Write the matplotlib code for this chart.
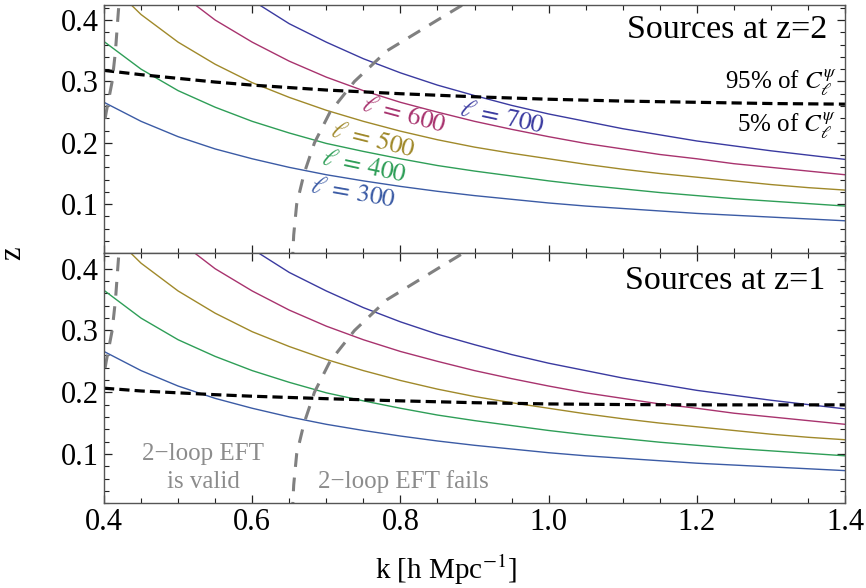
import matplotlib
matplotlib.use("Agg")
import matplotlib.pyplot as plt
import numpy as np

plt.rcParams["font.family"] = ["Liberation Serif", "DejaVu Serif"]
plt.rcParams["mathtext.fontset"] = "stix"

# k grid [h/Mpc]
k = [0.40, 0.45, 0.50, 0.55, 0.60, 0.65, 0.70, 0.75, 0.80, 0.85, 0.90,
     0.95, 1.00, 1.05, 1.10, 1.15, 1.20, 1.25, 1.30, 1.35, 1.40]

# z(k) for fixed multipole
z_l300 = [0.266, 0.235, 0.210, 0.190, 0.174, 0.160, 0.148, 0.138, 0.129, 0.121, 0.114,
          0.108, 0.102, 0.097, 0.093, 0.089, 0.085, 0.082, 0.079, 0.076, 0.073]
z_l400 = [0.365, 0.320, 0.285, 0.258, 0.235, 0.216, 0.199, 0.186, 0.174, 0.163, 0.154,
          0.146, 0.138, 0.131, 0.125, 0.119, 0.114, 0.109, 0.105, 0.101, 0.097]
z_l500 = [0.468, 0.409, 0.364, 0.328, 0.298, 0.274, 0.253, 0.235, 0.219, 0.205, 0.193,
          0.183, 0.174, 0.165, 0.157, 0.150, 0.144, 0.138, 0.132, 0.127, 0.123]
z_l600 = [np.nan, np.nan, 0.446, 0.400, 0.364, 0.333, 0.307, 0.285, 0.266, 0.250, 0.235,
          0.222, 0.210, 0.199, 0.190, 0.181, 0.174, 0.166, 0.160, 0.154, 0.148]
z_l700 = [np.nan, np.nan, np.nan, np.nan, 0.432, 0.394, 0.364, 0.337, 0.314, 0.294, 0.277,
          0.261, 0.247, 0.235, 0.223, 0.213, 0.203, 0.195, 0.187, 0.180, 0.173]

ells = [300, 400, 500, 600, 700]
curves = [z_l300, z_l400, z_l500, z_l600, z_l700]
colors = ["#3b5ba5", "#2e9e57", "#a0892a", "#a8336e", "#3a3aa0"]

# 95%/5% split of C_l^psi
k_split = [0.40, 0.45, 0.50, 0.55, 0.60, 0.70, 0.80, 0.90, 1.00, 1.10, 1.20, 1.30, 1.40]
z_split_2 = [0.318, 0.311, 0.305, 0.299, 0.294, 0.286, 0.280, 0.275, 0.271, 0.268, 0.266, 0.264, 0.263]
z_split_1 = [0.2065, 0.202, 0.199, 0.196, 0.1935, 0.1895, 0.186, 0.183, 0.181, 0.180, 0.1795, 0.1795, 0.1795]

# 2-loop EFT validity boundaries
z_eft = [0.00, 0.05, 0.10, 0.15, 0.20, 0.25, 0.30, 0.35, 0.40, 0.44]
k_eft_fail = [0.654, 0.656, 0.660, 0.670, 0.684, 0.705, 0.738, 0.782, 0.850, 0.905]
z_eft_low = [0.20, 0.25, 0.30, 0.35, 0.40, 0.44]
k_eft_low = [0.396, 0.403, 0.411, 0.4155, 0.4185, 0.421]

fig = plt.figure(figsize=(8.66, 5.88), dpi=100)
left, width = 0.1201, 0.8557
ax_top = fig.add_axes([left, 0.5692, width, 0.4228])
ax_bot = fig.add_axes([left, 0.1440, width, 0.4252])

for ax, z_split in [(ax_top, z_split_2), (ax_bot, z_split_1)]:
    for zc, c in zip(curves, colors):
        ax.plot(k, zc, color=c, lw=1.0)
    ax.plot(k_split, z_split, color="black", lw=2.3, dashes=(3.2, 1.6))
    ax.plot(k_eft_fail, z_eft, color="#808080", lw=2.2, dashes=(4.5, 3.5))
    ax.plot(k_eft_low, z_eft_low, color="#808080", lw=2.2, dashes=(4.5, 3.5))
    ax.set_xlim(0.4, 1.4)
    ax.set_ylim(0.02, 0.425)
    ax.set_xticks(np.arange(0.4, 1.41, 0.2))
    ax.set_xticks(np.arange(0.4, 1.41, 0.05), minor=True)
    ax.set_yticks([0.1, 0.2, 0.3, 0.4])
    ax.set_yticks(np.arange(0.02, 0.43, 0.02), minor=True)
    ax.tick_params(which="both", direction="in", top=True, right=True,
                   labelsize=22, color="#222222")
    ax.tick_params(which="major", length=6, width=0.9)
    ax.tick_params(which="minor", length=3.5, width=0.8)
    for s in ax.spines.values():
        s.set_color("#555555")
        s.set_linewidth(1.0)

ax_top.set_xticklabels([])
ax_bot.set_xticklabels(["0.4", "0.6", "0.8", "1.0", "1.2", "1.4"])

ax_top.text(1.376, 0.384, "Sources at z=2", fontsize=24.5, ha="right", va="center")
ax_bot.text(1.373, 0.380, "Sources at z=1", fontsize=24.5, ha="right", va="center")

ax_top.text(1.389, 0.298, r"95% of $C_\ell^\psi$", fontsize=18, ha="right", va="center")
ax_top.text(1.389, 0.228, r"5% of $C_\ell^\psi$", fontsize=18, ha="right", va="center")

# multipole labels along the curves
label_pos = [(0.736, 0.117, -10), (0.751, 0.161, -12), (0.763, 0.204, -14),
             (0.804, 0.245, -15), (0.937, 0.241, -12)]
for ell, c, (kx, zy, rot) in zip(ells, colors, label_pos):
    ax_top.text(kx, zy, r"$\ell\,=\,%d$" % ell, color=c, fontsize=18.5,
                ha="center", va="center", rotation=rot, rotation_mode="anchor")

ax_bot.text(0.534, 0.100, "2\u2212loop EFT", color="#8c8c8c", fontsize=18,
            ha="center", va="center")
ax_bot.text(0.534, 0.055, "is valid", color="#8c8c8c", fontsize=18,
            ha="center", va="center")
ax_bot.text(0.689, 0.055, "2\u2212loop EFT fails", color="#8c8c8c", fontsize=18,
            ha="left", va="center")

fig.text(0.015, 0.5692, "z", fontsize=22, rotation=90, ha="center", va="center")
fig.text(0.515, 0.016, r"k [h Mpc$^{-1}$]", fontsize=21, ha="center", va="baseline")

fig.savefig("out.png", dpi=100)
